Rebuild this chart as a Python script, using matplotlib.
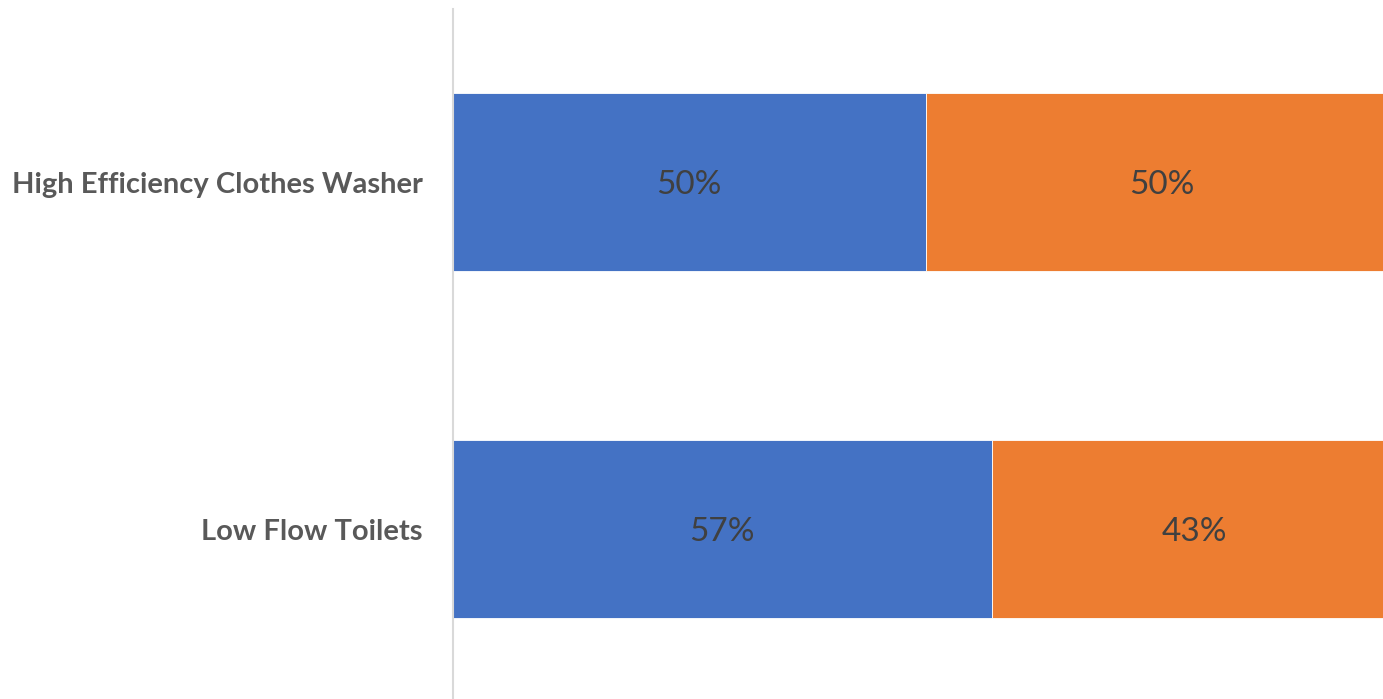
import matplotlib.pyplot as plt

# share of homes per fixture type, split into two groups
categories = ["Low Flow Toilets", "High Efficiency Clothes Washer"]
first_share = [0.57, 0.50]
second_share = [0.43, 0.50]

blue = "#4472C4"
orange = "#ED7D31"

fig = plt.figure(figsize=(13.83, 6.99), dpi=100)
ax = fig.add_axes([453 / 1383, -4 / 699, 945 / 1383, 694.5 / 699])

y = list(range(len(categories)))
bars1 = ax.barh(y, first_share, height=0.513, color=blue, edgecolor="white", linewidth=0.6)
bars2 = ax.barh(y, second_share, left=first_share, height=0.513, color=orange,
                edgecolor="white", linewidth=0.6)

for bars, vals, lefts in [(bars1, first_share, [0] * len(y)), (bars2, second_share, first_share)]:
    for i, v in enumerate(vals):
        ax.text(lefts[i] + v / 2, y[i], f"{v:.0%}", ha="center", va="center_baseline",
                fontsize=24, color="#404040", family="Lato")

ax.set_xlim(0, 1)
ax.set_ylim(-0.5, 1.5)
ax.set_yticks(y)
ax.set_yticklabels(categories, fontsize=21, fontweight="bold", color="#595959", family="Lato")
ax.tick_params(axis="y", length=0, pad=22)
ax.set_xticks([])

for s in ["top", "right", "bottom"]:
    ax.spines[s].set_visible(False)
ax.spines["left"].set_color("#d9d9d9")
ax.spines["left"].set_linewidth(1.5)

fig.savefig("out.png", dpi=100)
